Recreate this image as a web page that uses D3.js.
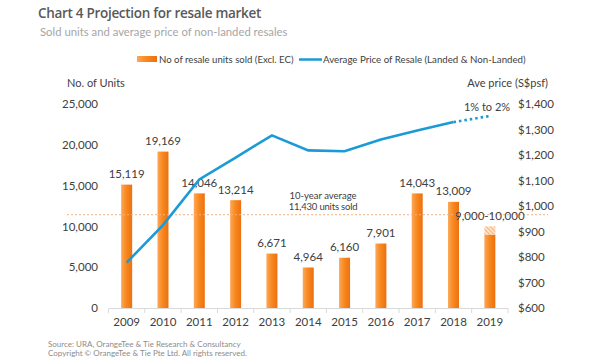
<!DOCTYPE html>
<html><head><meta charset="utf-8">
<script src="https://cdn.jsdelivr.net/npm/d3@7"></script>
<style>
html,body{margin:0;padding:0;background:#fff;}
svg{display:block;font-family:Lato,"Open Sans",sans-serif;}
</style></head>
<body>
<script>
const years = ['2009','2010','2011','2012','2013','2014','2015','2016','2017','2018','2019'];
const units = [15119,19169,14046,13214,6671,4964,6160,7901,14043,13009,9000];
const unitLabels = ['15,119','19,169','14,046','13,214','6,671','4,964','6,160','7,901','14,043','13,009','9,000-10,000'];
const projectedUnitsHigh = 10000;
const prices = [778,925,1104,1190,1277,1218,1215,1261,1296,1329,1353];
const projectedFrom = '2018';
const avgUnits = 11430;
const leftTicks = [0,5000,10000,15000,20000,25000];
const rightTicks = [600,700,800,900,1000,1100,1200,1300,1400];

const W=601,H=360;
const svg=d3.select('body').append('svg').attr('width',W).attr('height',H);
const defs=svg.append('defs');
const g=defs.append('linearGradient').attr('id','barGrad').attr('x1','0').attr('x2','1').attr('y1','0').attr('y2','0');
g.append('stop').attr('offset','0').attr('stop-color','#fca85a');
g.append('stop').attr('offset','0.45').attr('stop-color','#f8891f');
g.append('stop').attr('offset','1').attr('stop-color','#ec7010');
const pat=defs.append('pattern').attr('id','hatch').attr('patternUnits','userSpaceOnUse').attr('width',3).attr('height',3).attr('patternTransform','rotate(-45)');
pat.append('rect').attr('width',3).attr('height',3).attr('fill','#fde3cc');
pat.append('line').attr('x1',0).attr('y1',0).attr('x2',0).attr('y2',3).attr('stroke','#f39a57').attr('stroke-width',1.4);

const x=d3.scaleBand().domain(years).range([108.5,508]).padding(0);
const cx=d=>x(d)+x.bandwidth()/2;
const yL=d3.scaleLinear().domain([0,25000]).range([308,104]);
const yR=d3.scaleLinear().domain([600,1400]).range([308,104]);
const barW=11;
const txt='#404040';

// titles
svg.append('text').attr('x',38).attr('y',18).text('Chart 4 Projection for resale market')
  .attr('font-size',13.5).attr('font-weight',600).attr('fill','#595959').attr('font-family','"Open Sans",sans-serif').attr('letter-spacing',-0.3);
svg.append('text').attr('x',40).attr('y',36).text('Sold units and average price of non-landed resales')
  .attr('font-size',11.3).attr('fill','#a6a6a6');

// legend
svg.append('rect').attr('x',137).attr('y',56).attr('width',20).attr('height',6).attr('fill','url(#barGrad)');
svg.append('text').attr('x',159).attr('y',63).text('No of resale units sold (Excl. EC)').attr('font-size',9.6).attr('fill',txt);
svg.append('line').attr('x1',299).attr('x2',322).attr('y1',59.5).attr('y2',59.5).attr('stroke','#1a9ad6').attr('stroke-width',2.5);
svg.append('text').attr('x',323).attr('y',63).text('Average Price of Resale (Landed & Non-Landed)').attr('font-size',9.7).attr('fill',txt);

// axis titles
svg.append('text').attr('x',67).attr('y',87).text('No. of Units').attr('font-size',11).attr('fill',txt);
svg.append('text').attr('x',548).attr('y',87).attr('text-anchor','end').text('Ave price (S$psf)').attr('font-size',11).attr('fill',txt);

// left axis
const la=svg.append('g').attr('transform','translate(98,0)')
  .call(d3.axisLeft(yL).tickValues(leftTicks).tickSize(0).tickPadding(0).tickFormat(d3.format(',')));
la.select('.domain').remove();
la.selectAll('text').attr('font-size',11.5).attr('fill',txt).attr('font-family','Lato,sans-serif');
// right axis
const ra=svg.append('g').attr('transform','translate(518,0)')
  .call(d3.axisRight(yR).tickValues(rightTicks).tickSize(0).tickPadding(0).tickFormat(d=>'$'+d3.format(',')(d)));
ra.select('.domain').remove();
ra.selectAll('text').attr('font-size',11.5).attr('fill',txt).attr('font-family','Lato,sans-serif');

// bottom axis
const ba=svg.append('g').attr('transform','translate(0,308.5)')
  .call(d3.axisBottom(x).tickSize(0).tickPadding(9));
ba.select('.domain').attr('stroke','#d9d9d9').attr('d',`M${x.range()[0]},0H${x.range()[1]}`);
ba.selectAll('text').attr('font-size',11.5).attr('fill',txt).attr('font-family','Lato,sans-serif');
const bounds=years.map(d=>x(d)).concat([x.range()[1]]);
svg.append('g').selectAll('line').data(bounds).join('line')
  .attr('x1',d=>d).attr('x2',d=>d).attr('y1',308.5).attr('y2',313).attr('stroke','#d9d9d9');

// bars
svg.append('g').selectAll('rect').data(years).join('rect')
  .attr('x',(d)=>cx(d)-barW/2).attr('width',barW)
  .attr('y',(d,i)=>yL(units[i])).attr('height',(d,i)=>yL(0)-yL(units[i]))
  .attr('fill','url(#barGrad)');
// projected hatch
const last=years[years.length-1];
svg.append('rect').attr('x',cx(last)-barW/2).attr('width',barW)
  .attr('y',yL(projectedUnitsHigh)).attr('height',yL(units[units.length-1])-yL(projectedUnitsHigh))
  .attr('fill','url(#hatch)');

// avg line
svg.append('line').attr('x1',67).attr('x2',548).attr('y1',yL(avgUnits)).attr('y2',yL(avgUnits))
  .attr('stroke','#f4b183').attr('stroke-width',1).attr('stroke-dasharray','2,2');
svg.append('text').attr('x',323).attr('y',199).attr('text-anchor','middle').text('10-year average').attr('font-size',9.5).attr('fill',txt);
svg.append('text').attr('x',323).attr('y',210).attr('text-anchor','middle').text(d3.format(',')(avgUnits)+' units sold').attr('font-size',9.5).attr('fill',txt).attr('letter-spacing',-0.2);

// bar labels
svg.append('g').selectAll('text').data(years).join('text')
  .attr('x',d=>cx(d)).attr('text-anchor','middle')
  .attr('y',(d,i)=> i===years.length-1 ? 219.5 : yL(units[i])-6.5)
  .text((d,i)=>unitLabels[i]).attr('font-size',11.5).attr('fill',txt);

// price line
const pi=years.indexOf(projectedFrom);
const line=d3.line().x(d=>cx(d[0])).y(d=>yR(d[1]));
const pts=years.map((d,i)=>[d,prices[i]]);
svg.append('path').attr('d',line(pts.slice(0,pi+1))).attr('fill','none').attr('stroke','#1a9ad6').attr('stroke-width',2.6).attr('stroke-linejoin','miter');
svg.append('path').attr('d',line(pts.slice(pi))).attr('fill','none').attr('stroke','#1a9ad6').attr('stroke-width',2.6).attr('stroke-dasharray','2.5,3');
svg.append('text').attr('x',487).attr('y',111).attr('text-anchor','middle').text('1% to 2%').attr('font-size',11).attr('fill',txt);

// source
svg.append('text').attr('x',48).attr('y',347).text('Source: URA, OrangeTee & Tie Research & Consultancy').attr('font-size',8).attr('fill','#8c8c8c');
svg.append('text').attr('x',48).attr('y',356).text('Copyright © OrangeTee & Tie Pte Ltd. All rights reserved.').attr('font-size',8).attr('fill','#8c8c8c');
</script>
</body></html>
